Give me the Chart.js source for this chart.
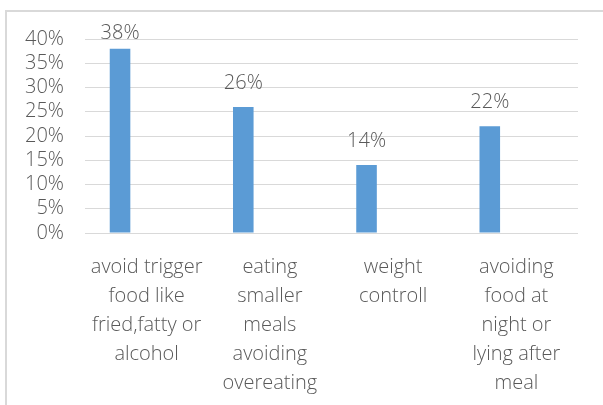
<!DOCTYPE html>
<html lang="en">
<head>
    <meta charset="UTF-8">
    <title>Reflux prevention measures</title>
    <script src="https://cdn.jsdelivr.net/npm/chart.js"></script>
    <style>
        html, body {
            margin: 0;
            padding: 0;
            background: white;
        }
        .frame {
            position: absolute;
            left: 5px;
            top: 10px;
            width: 610px;
            height: 420px;
            border-left: 2px solid #d9d9d9;
            border-top: 2px solid #d9d9d9;
        }
        #barChart {
            position: absolute;
            left: 0;
            top: 0;
        }
    </style>
</head>
<body>
    <div class="frame"></div>
    <canvas id="barChart" width="603" height="405"></canvas>
    <script>
        const categories = [
            ["avoid trigger", "food like", "fried,fatty or", "alcohol"],
            ["eating", "smaller", "meals", "avoiding", "overeating"],
            ["weight", "controll"],
            ["avoiding", "food at", "night or", "lying after", "meal"]
        ];
        const percentages = [38, 26, 14, 22];
        const yTicks = [0, 5, 10, 15, 20, 25, 30, 35, 40];

        const textColor = "#595959";
        const fontFamily = "'Open Sans', sans-serif";
        const fontSize = 20;

        // value labels above each bar, kept inside the top of the canvas
        const barValueLabels = {
            id: "barValueLabels",
            afterDatasetsDraw(chart) {
                const ctx = chart.ctx;
                const meta = chart.getDatasetMeta(0);
                ctx.save();
                ctx.font = "300 " + fontSize + "px " + fontFamily;
                ctx.fillStyle = textColor;
                ctx.textAlign = "center";
                ctx.textBaseline = "middle";
                meta.data.forEach((bar, i) => {
                    const y = Math.max(bar.y - 24, chart.chartArea.top - 6);
                    ctx.fillText(percentages[i] + "%", bar.x, y);
                });
                ctx.restore();
            }
        };

        new Chart(document.getElementById("barChart"), {
            type: "bar",
            data: {
                labels: categories,
                datasets: [{
                    data: percentages,
                    backgroundColor: "#5b9bd5",
                    categoryPercentage: 0.863,
                    barPercentage: 0.387
                }, {
                    // empty second series, keeps the bars left of centre
                    data: percentages.map(() => null),
                    categoryPercentage: 0.863,
                    barPercentage: 0.387
                }]
            },
            options: {
                responsive: false,
                animation: false,
                layout: { padding: { top: 39, right: 25, left: 0, bottom: 0 } },
                plugins: {
                    legend: { display: false },
                    tooltip: { enabled: false }
                },
                scales: {
                    x: {
                        grid: { display: false },
                        border: { display: false },
                        ticks: {
                            color: textColor,
                            font: { family: fontFamily, size: fontSize, weight: "300", lineHeight: 29 / fontSize },
                            padding: 12,
                            maxRotation: 0,
                            autoSkip: false
                        },
                        afterFit(scale) { scale.height = 172; }
                    },
                    y: {
                        min: 0,
                        max: 40,
                        afterBuildTicks(scale) {
                            scale.ticks = yTicks.map(v => ({ value: v }));
                        },
                        grid: { color: "#d9d9d9", lineWidth: 1, drawTicks: false },
                        border: { display: false },
                        ticks: {
                            color: textColor,
                            font: { family: fontFamily, size: fontSize, weight: "300" },
                            padding: 21,
                            autoSkip: false,
                            callback: v => v + "%"
                        },
                        afterFit(scale) { scale.width = 85; }
                    }
                }
            },
            plugins: [barValueLabels]
        });
    </script>
</body>
</html>
